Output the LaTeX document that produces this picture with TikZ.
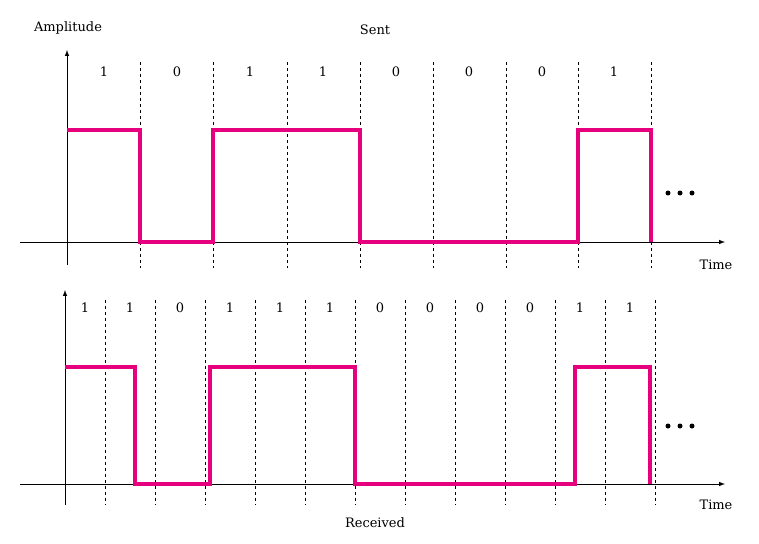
\documentclass[tikz,border=0pt]{standalone}
\usepackage{fontspec}
\setmainfont{DejaVu Serif}
\begin{document}
\begin{tikzpicture}[x=1pt,y=-1pt,
  sig/.style={line width=3.2pt,color=sigc,line join=miter},
  ax/.style={line width=1pt,-latex},
  dl/.style={dashed,line width=0.6pt},
  lbl/.style={font=\fontsize{13}{15}\selectfont},
  dot/.style={circle,fill=black,inner sep=0pt,minimum size=5pt}]
\definecolor{sigc}{HTML}{E6007E}
\useasboundingbox (0,0) rectangle (759,543);
% top
\coordinate (ta0) at (20,242); \coordinate (ta1) at (725,242);
\coordinate (tb0) at (67,265); \coordinate (tb1) at (67,50);
\draw[ax] (ta0) -- (ta1);
\draw[ax] (tb0) -- (tb1);
\foreach \x in {140,213,287,360,433,506,578,651} \draw[dl] (\x,62) -- (\x,268);
\foreach \x/\b [count=\i] in {104/1,177/0,250/1,323/1,396/0,469/0,542/0,614/1} \node[lbl] (tb\i) at (\x,72) {\b};
\draw[sig] (67,130) -- (140,130) -- (140,242) -- (213,242) -- (213,130) -- (360,130) -- (360,242) -- (578,242) -- (578,130) -- (651,130) -- (651,242);
\foreach \x [count=\i] in {668,680,692} \node[dot] (td\i) at (\x,193) {};
\node[lbl] (tt) at (716,265) {Time};
\node[lbl] (amp) at (68,28) {Amplitude};
\node[lbl] (sent) at (375,30) {Sent};
% bottom
\coordinate (ba0) at (20,484); \coordinate (ba1) at (725,484);
\coordinate (bb0) at (65,505); \coordinate (bb1) at (65,290);
\draw[ax] (ba0) -- (ba1);
\draw[ax] (bb0) -- (bb1);
\foreach \x in {105,155,205,255,305,355,405,455,505,555,605,655} \draw[dl] (\x,300) -- (\x,505);
\foreach \x/\b [count=\i] in {85/1,130/1,180/0,230/1,280/1,330/1,380/0,430/0,480/0,530/0,580/1,630/1} \node[lbl] (bl\i) at (\x,308) {\b};
\draw[sig] (65,367) -- (135,367) -- (135,484) -- (210,484) -- (210,367) -- (355,367) -- (355,484) -- (575,484) -- (575,367) -- (650,367) -- (650,484);
\foreach \x [count=\i] in {668,680,692} \node[dot] (bd\i) at (\x,426) {};
\node[lbl] (bt) at (716,505) {Time};
\node[lbl] (rec) at (375,523) {Received};
\end{tikzpicture}
\end{document}
